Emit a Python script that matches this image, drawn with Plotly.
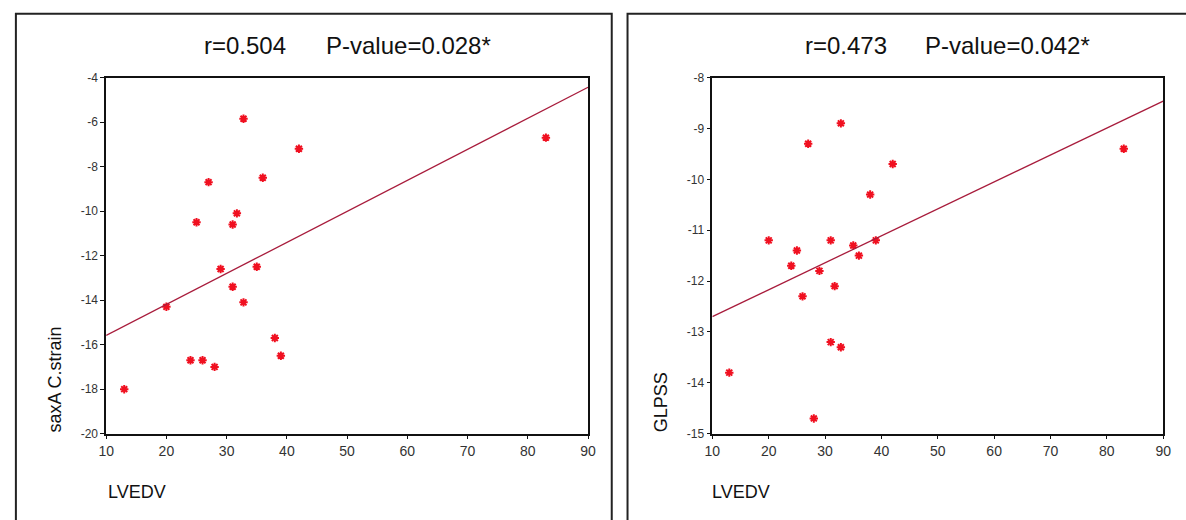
import numpy as np
import plotly.graph_objects as go

# ---- data ----
lvedv = [13, 20, 24, 25, 26, 27, 28, 29, 31, 31, 31.7, 32.8, 32.8, 35, 36, 38, 39, 42, 83]
saxa_c_strain = [-18.0, -14.3, -16.7, -10.5, -16.7, -8.7, -17.0, -12.6, -10.6, -13.4,
                 -10.1, -5.85, -14.1, -12.5, -8.5, -15.7, -16.5, -7.2, -6.7]
glpss = [-13.8, -11.2, -11.7, -11.4, -12.3, -9.3, -14.7, -11.8, -11.2, -13.2,
         -12.1, -8.9, -13.3, -11.3, -11.5, -10.3, -11.2, -9.7, -9.4]

x_range = [10, 90]
left_y_range = [-20, -4]
right_y_range = [-15, -8]
left_y_ticks = [-20, -18, -16, -14, -12, -10, -8, -6, -4]
right_y_ticks = [-15, -14, -13, -12, -11, -10, -9, -8]
left_stats = ["r=0.504", "P-value=0.028*"]
right_stats = ["r=0.473", "P-value=0.042*"]

W, H = 1186, 520
FONT = "Liberation Sans, Arial, sans-serif"
NARROW = "Liberation Sans Narrow, Arial Narrow, Liberation Sans, Arial, sans-serif"
MARK = "#f01020"
LINE = "#a81c3c"

fig = go.Figure()


def px(x):
    return x / W


def py(y):
    return 1 - y / H


def add_panel(xa, ya, xs, ys):
    fig.add_trace(go.Scatter(
        x=xs, y=ys, mode="markers", xaxis=xa, yaxis=ya, showlegend=False,
        marker=dict(symbol="asterisk-open", size=7, color=MARK,
                    line=dict(color=MARK, width=2)),
    ))
    slope, icpt = np.polyfit(xs, ys, 1)
    fx = np.array(x_range, dtype=float)
    fig.add_trace(go.Scatter(
        x=fx, y=slope * fx + icpt, mode="lines", xaxis=xa, yaxis=ya,
        showlegend=False, line=dict(color=LINE, width=1.3),
    ))


add_panel("x", "y", lvedv, saxa_c_strain)
add_panel("x2", "y2", lvedv, glpss)

ydom = [py(438.5), py(72.5)]
axis_common = dict(showline=True, linecolor="#111", linewidth=1.5, mirror=True,
                   ticks="outside", ticklen=4, tickcolor="#111", tickwidth=1,
                   showgrid=False, zeroline=False)

fig.update_layout(
    width=W, height=H, margin=dict(l=0, r=0, t=0, b=0),
    paper_bgcolor="white", plot_bgcolor="white",
    font=dict(family=FONT, color="#222"),
    xaxis=dict(domain=[px(99.5), px(588)], range=x_range, dtick=10, anchor="y",
               tickfont=dict(family=NARROW, size=14, color="#333"), **axis_common),
    yaxis=dict(domain=ydom, range=left_y_range, anchor="x",
               tickvals=left_y_ticks, ticktext=[str(v) for v in left_y_ticks],
               tickfont=dict(family=FONT, size=12, color="#333"), **axis_common),
    xaxis2=dict(domain=[px(714), px(1171)], range=x_range, dtick=10, anchor="y2",
                tickfont=dict(family=NARROW, size=14, color="#333"), **axis_common),
    yaxis2=dict(domain=ydom, range=right_y_range, anchor="x2",
                tickvals=right_y_ticks, ticktext=[str(v) for v in right_y_ticks],
                tickfont=dict(family=FONT, size=12, color="#333"), **axis_common),
)

# outer panel frames
fig.add_shape(type="rect", xref="paper", yref="paper",
              x0=px(8), x1=px(612), y0=py(530), y1=py(7),
              line=dict(color="#222", width=2))
fig.add_shape(type="rect", xref="paper", yref="paper",
              x0=px(628), x1=px(1200), y0=py(530), y1=py(7),
              line=dict(color="#222", width=2))


def txt(x, y, s, size, xanchor="left", angle=0, yanchor="middle"):
    fig.add_annotation(x=px(x), y=py(y), xref="paper", yref="paper", text=s,
                       showarrow=False, xanchor=xanchor, yanchor=yanchor,
                       textangle=angle, font=dict(family=FONT, size=size, color="#111"))


# titles
txt(197, 40, left_stats[0], 24)
txt(320, 40, left_stats[1], 24)
txt(806, 40, right_stats[0], 24)
txt(928, 40, right_stats[1], 24)

# axis titles
txt(99, 498, "LVEDV", 18)
txt(712, 498, "LVEDV", 18)
txt(48, 439, "saxA C.strain", 18, xanchor="center", angle=-90, yanchor="bottom")
txt(662, 439, "GLPSS", 18, xanchor="center", angle=-90, yanchor="bottom")

fig.write_html(
    "out.html",
    config={"displayModeBar": False},
    post_script="document.body.style.margin='0';document.body.style.overflow='hidden';",
)
